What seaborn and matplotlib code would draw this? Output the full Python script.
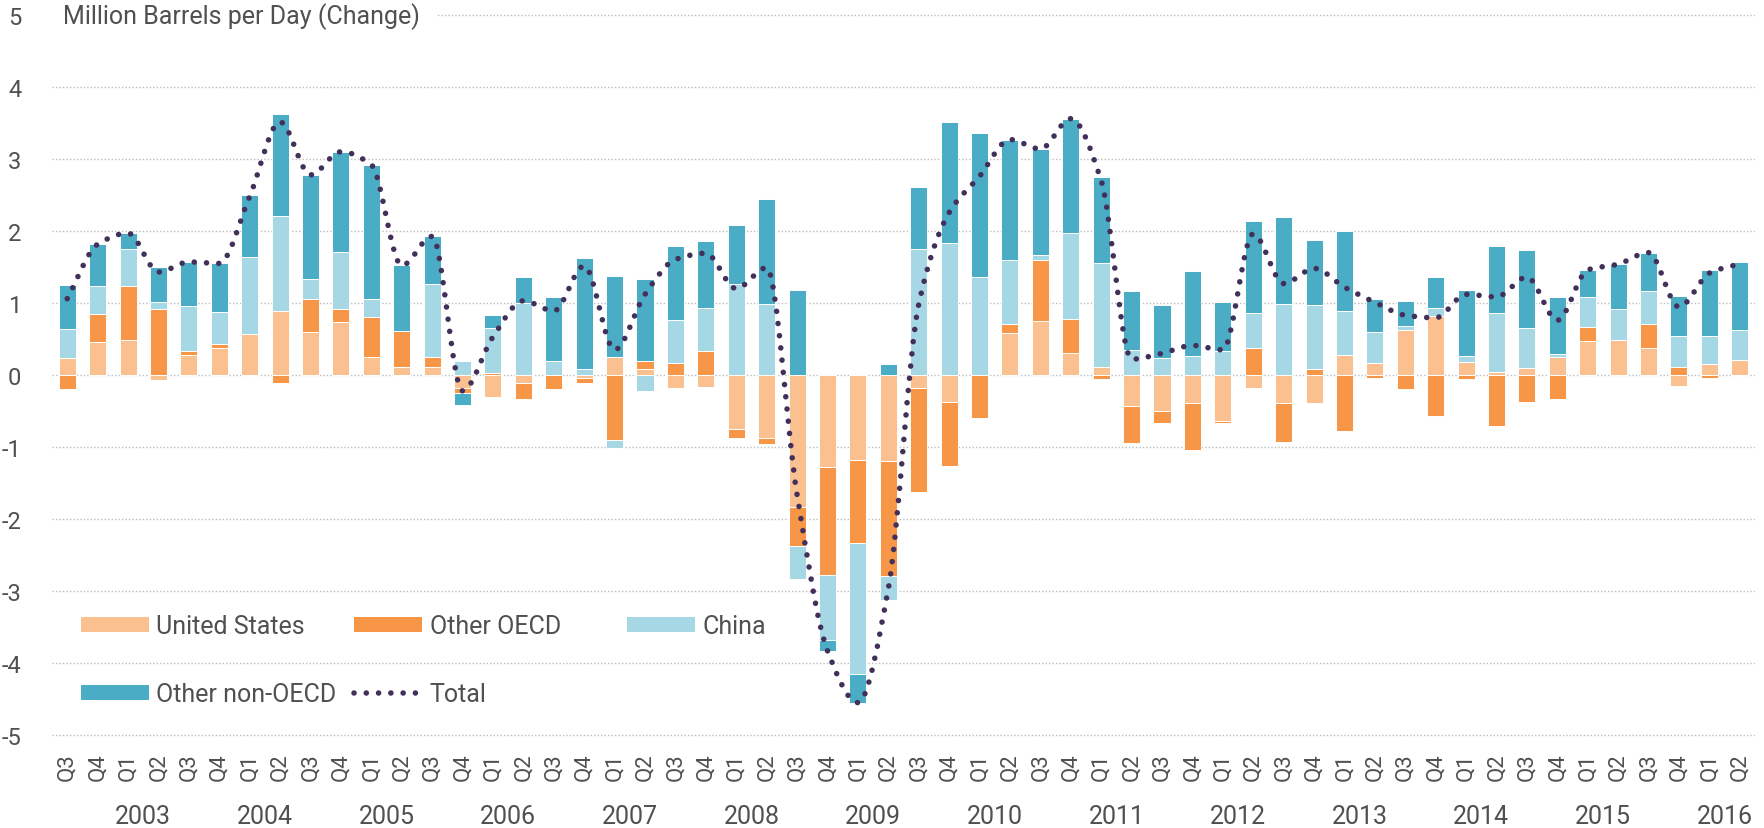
import numpy as np
import matplotlib
matplotlib.use("Agg")
import matplotlib.pyplot as plt
import matplotlib.transforms as mtransforms
from matplotlib.path import Path
from matplotlib.patches import PathPatch, Patch
from matplotlib.lines import Line2D
import seaborn as sns

# Données : variation de la demande (mb/j), Q3 2002 -> Q2 2016
quarters = ["Q3", "Q4"] + ["Q1", "Q2", "Q3", "Q4"] * 13 + ["Q1", "Q2"]
years = [str(y) for y in range(2003, 2017)]

united_states = [0.23, 0.46, 0.49, -0.07, 0.28, 0.38, 0.57, 0.89, 0.60, 0.73,
                 0.25, 0.11, 0.11, -0.185, -0.30, -0.11, 0.0, -0.04, 0.25, 0.08,
                 -0.185, -0.17, -0.75, -0.875, -1.83, -1.28, -1.18, -1.19, -0.18, -0.375,
                 0.0, 0.58, 0.75, 0.30, 0.115, -0.43, -0.50, -0.39, -0.635, -0.18,
                 -0.39, -0.39, 0.28, 0.17, 0.62, 0.815, 0.18, 0.045, 0.10, 0.245,
                 0.47, 0.48, 0.37, -0.15, 0.15, 0.21]
other_oecd = [-0.19, 0.39, 0.75, 0.92, 0.06, 0.05, -0.02, -0.11, 0.46, 0.19,
              0.56, 0.50, 0.145, -0.065, 0.03, -0.22, -0.19, -0.075, -0.90, 0.11,
              0.17, 0.33, -0.13, -0.085, -0.54, -1.50, -1.16, -1.60, -1.45, -0.89,
              -0.60, 0.13, 0.85, 0.48, -0.055, -0.52, -0.17, -0.65, -0.025, 0.375,
              -0.54, 0.09, -0.78, -0.04, -0.20, -0.57, -0.06, -0.71, -0.38, -0.33,
              0.195, 0.01, 0.34, 0.115, -0.045, -0.02]
china = [0.41, 0.39, 0.515, 0.09, 0.62, 0.45, 1.07, 1.32, 0.27, 0.79,
         0.25, -0.01, 1.01, 0.19, 0.62, 1.00, 0.19, 0.08, -0.12, -0.22,
         0.59, 0.60, 1.27, 0.99, -0.47, -0.90, -1.81, -0.33, 1.75, 1.84,
         1.36, 0.89, 0.07, 1.19, 1.44, 0.35, 0.23, 0.26, 0.34, 0.485,
         0.98, 0.88, 0.61, 0.43, 0.06, 0.11, 0.08, 0.82, 0.55, 0.045,
         0.42, 0.43, 0.45, 0.43, 0.385, 0.41]
other_non_oecd = [0.61, 0.575, 0.215, 0.49, 0.61, 0.67, 0.86, 1.415, 1.45, 1.39,
                  1.86, 0.92, 0.66, -0.16, 0.18, 0.36, 0.89, 1.55, 1.12, 1.15,
                  1.03, 0.93, 0.81, 1.46, 1.18, -0.15, -0.40, 0.15, 0.86, 1.68,
                  2.00, 1.67, 1.47, 1.59, 1.20, 0.82, 0.74, 1.19, 0.67, 1.28,
                  1.22, 0.90, 1.11, 0.45, 0.35, 0.44, 0.92, 0.93, 1.09, 0.80,
                  0.375, 0.62, 0.54, 0.55, 0.925, 0.945]

series = [("United States", united_states, "#FAC090"),
          ("Other OECD", other_oecd, "#F79646"),
          ("China", china, "#A6D7E4"),
          ("Other non-OECD", other_non_oecd, "#4BACC6")]
total_color = "#43305A"
text_color = "#505050"

sns.set_theme(style="white")
plt.rcParams["font.family"] = ["Roboto", "DejaVu Sans"]

W, H = 1764, 829
fig = plt.figure(figsize=(W / 100, H / 100), dpi=100)
ax = fig.add_axes([52 / W, (H - 743.2) / H, 1703 / W, 734.4 / H])

n = len(quarters)
idx = np.arange(n)

# Barres empilées (positifs vers le haut, négatifs vers le bas)
pos_base = np.zeros(n)
neg_base = np.zeros(n)
for name, vals, col in series:
    v = np.array(vals)
    bottom = np.where(v >= 0, pos_base, neg_base)
    sns.barplot(x=idx, y=v, bottom=bottom, color=col, saturation=1, width=0.56,
                errorbar=None, edgecolor="white", linewidth=0.7, ax=ax, zorder=2)
    pos_base += np.clip(v, 0, None)
    neg_base += np.clip(v, None, 0)

# Total : courbe lissée (tangentes monotones) en pointillés
total = np.sum([np.array(s[1]) for s in series], axis=0)
d = np.diff(total)
m = np.zeros(n)
m[0], m[-1] = d[0], d[-1]
for k in range(1, n - 1):
    if d[k - 1] * d[k] > 0:
        m[k] = 2 * d[k - 1] * d[k] / (d[k - 1] + d[k])
verts = [(0.0, total[0])]
codes = [Path.MOVETO]
for k in range(n - 1):
    verts += [(k + 1 / 3, total[k] + m[k] / 3),
              (k + 2 / 3, total[k + 1] - m[k + 1] / 3),
              (k + 1.0, total[k + 1])]
    codes += [Path.CURVE4] * 3
dot_style = (0, (0.01, 2.2))
ax.add_patch(PathPatch(Path(verts, codes), fill=False, edgecolor=total_color,
                       linewidth=4, linestyle=dot_style, capstyle="round", zorder=4))

ax.set_xlim(-0.5, n - 0.5)
ax.set_ylim(-5.1, 5.1)
ax.set_yticks(range(-5, 6))
ax.set_yticklabels([str(t) for t in range(-5, 6)], fontsize=17, color=text_color)
ax.set_xticks(idx)
ax.set_xticklabels(quarters, rotation=90, fontsize=16, color=text_color)
ax.tick_params(axis="y", length=0, pad=22)
ax.tick_params(axis="x", length=0, pad=7)
ax.set_xlabel("")
ax.set_ylabel("")
ax.grid(axis="y", linestyle=(0, (1, 1.5)), color="#BDBDBD", linewidth=1, zorder=0)
ax.set_axisbelow(True)
for s in ax.spines.values():
    s.set_visible(False)

# Années sous les trimestres
trans = mtransforms.blended_transform_factory(ax.transData, ax.transAxes)
for k, yr in enumerate(years):
    ax.text(2.5 + 4 * k, -0.1005, yr, transform=trans, ha="center", va="center",
            fontsize=18, color=text_color)

fig.text(63 / W, 1 - 17 / H, "Million Barrels per Day (Change)", ha="left", va="center",
         fontsize=18, color=text_color,
         bbox=dict(facecolor="white", edgecolor="none", pad=12))

# Légende
patches = {name: Patch(facecolor=col, edgecolor="none") for name, _, col in series}
total_handle = Line2D([0], [0], color=total_color, linewidth=4, linestyle=dot_style,
                      dash_capstyle="round")
leg_kw = dict(frameon=False, fontsize=18, handlelength=2.72, handleheight=0.51,
              handletextpad=0.3, labelspacing=1.75, borderpad=0, borderaxespad=0,
              labelcolor=text_color, bbox_transform=fig.transFigure, loc="upper left")
leg1 = fig.legend([patches["United States"], patches["Other non-OECD"],
                   patches["Other OECD"], total_handle],
                  ["United States", "Other non-OECD", "Other OECD", "Total"],
                  ncol=2, columnspacing=0.7, bbox_to_anchor=(81 / W, 1 - 615.5 / H), **leg_kw)
leg2 = fig.legend([patches["China"]], ["China"],
                  bbox_to_anchor=(627 / W, 1 - 615.5 / H), **leg_kw)

fig.savefig("out.png", dpi=100, facecolor="white")
